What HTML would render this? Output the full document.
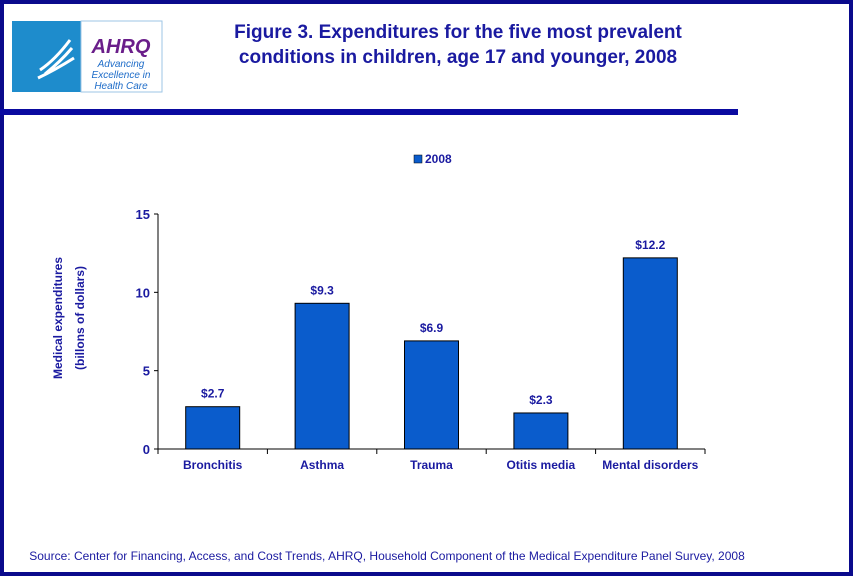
<!DOCTYPE html>
<html><head><meta charset="utf-8"><style>
body{margin:0;width:853px;height:576px;overflow:hidden;background:#fff;font-family:"Liberation Sans",Arial,sans-serif}
#frame{position:absolute;left:0;top:0;width:845px;height:568px;border:4px solid #0a0a8c;background:#fff}
</style></head><body>
<div id="frame"></div>
<svg width="853" height="576" style="position:absolute;left:0;top:0">
<g>
<rect x="12" y="21" width="69" height="71" fill="#1e8ccc"/>
<path d="M40 70 Q55 60 70 40 M45 74 Q60 62 72 48 M38 78 Q55 70 74 58" stroke="#fff" stroke-width="3" fill="none"/>
</g>
<g>
<rect x="81" y="21" width="81" height="71" fill="#fff" stroke="#9ec6e6"/>
<text x="121" y="53" text-anchor="middle" font-size="20" font-weight="bold" font-style="italic" fill="#6a1e8a">AHRQ</text>
<text x="121" y="67" text-anchor="middle" font-size="10" font-style="italic" fill="#1e6cc8">Advancing</text>
<text x="121" y="78" text-anchor="middle" font-size="10" font-style="italic" fill="#1e6cc8">Excellence in</text>
<text x="121" y="89" text-anchor="middle" font-size="10" font-style="italic" fill="#1e6cc8">Health Care</text>
</g>
<text x="458" y="38" text-anchor="middle" font-size="19" font-weight="bold" fill="#1a1aa0">Figure 3. Expenditures for the five most prevalent</text>
<text x="458" y="63" text-anchor="middle" font-size="19" font-weight="bold" fill="#1a1aa0">conditions in children, age 17 and younger, 2008</text>
<rect x="0" y="109" width="738" height="6" fill="#0a0aa0"/>
<g>
<rect x="414" y="155" width="8" height="8" fill="#0a5ccc" stroke="#000" stroke-width="0.5"/>
<text x="425" y="163" font-size="12" font-weight="bold" fill="#1a1aa0">2008</text>
</g>
<g transform="translate(62,318) rotate(-90)">
<text x="0" y="0" text-anchor="middle" font-size="12" font-weight="bold" fill="#1a1aa0">Medical expenditures</text>
<text x="0" y="22" text-anchor="middle" font-size="12" font-weight="bold" fill="#1a1aa0">(billons of dollars)</text>
</g>
<g id="chart"></g>
<text x="387" y="560" text-anchor="middle" font-size="12" fill="#1a1aa0">Source: Center for Financing, Access, and Cost Trends, AHRQ, Household Component of the Medical Expenditure Panel Survey,  2008</text>
</svg>
<script>
const categories=["Bronchitis","Asthma","Trauma","Otitis media","Mental disorders"];
const values=[2.7,9.3,6.9,2.3,12.2];
const valueLabels=["$2.7","$9.3","$6.9","$2.3","$12.2"];
const yTicks=[0,5,10,15];
const NS="http://www.w3.org/2000/svg";
const g=document.getElementById('chart');
const x0=158,x1=705,y0=449,yTop=214,yMax=15;
const y=v=>y0-(v/yMax)*(y0-yTop);
const bw=(x1-x0)/categories.length;
function mk(t,a){const e=document.createElementNS(NS,t);for(const k in a)e.setAttribute(k,a[k]);g.appendChild(e);return e;}
let ax=mk('line',{x1:x0,y1:yTop,x2:x0,y2:y0,stroke:'#000'});


let bx=mk('line',{x1:x0,y1:y0,x2:x1,y2:y0,stroke:'#000'});


yTicks.forEach(t=>{
 const l=mk('line',{x1:x0-4,y1:y(t),x2:x0,y2:y(t),stroke:'#000'});
 
 
 const tx=mk('text',{x:x0-8,y:y(t)+5,'text-anchor':'end','font-size':13,'font-weight':'bold',fill:'#1a1aa0'});
 tx.textContent=t;
 
 
});
for(let i=0;i<=categories.length;i++){
 const l=mk('line',{x1:x0+i*bw,y1:y0,x2:x0+i*bw,y2:y0+5,stroke:'#000'});
 
 
}
categories.forEach((c,i)=>{
 const cx=x0+bw*(i+0.5),w=54;
 const r=mk('rect',{x:cx-w/2,y:y(values[i]),width:w,height:y0-y(values[i]),fill:'#0a5ccc',stroke:'#000','stroke-width':1});
 
 
 const vl=mk('text',{x:cx,y:y(values[i])-9,'text-anchor':'middle','font-size':12,'font-weight':'bold',fill:'#1a1aa0'});
 vl.textContent=valueLabels[i];
 
 
 const cl=mk('text',{x:cx,y:469,'text-anchor':'middle','font-size':12,'font-weight':'bold',fill:'#1a1aa0'});
 cl.textContent=c;
 
 
});
</script>
</body></html>
